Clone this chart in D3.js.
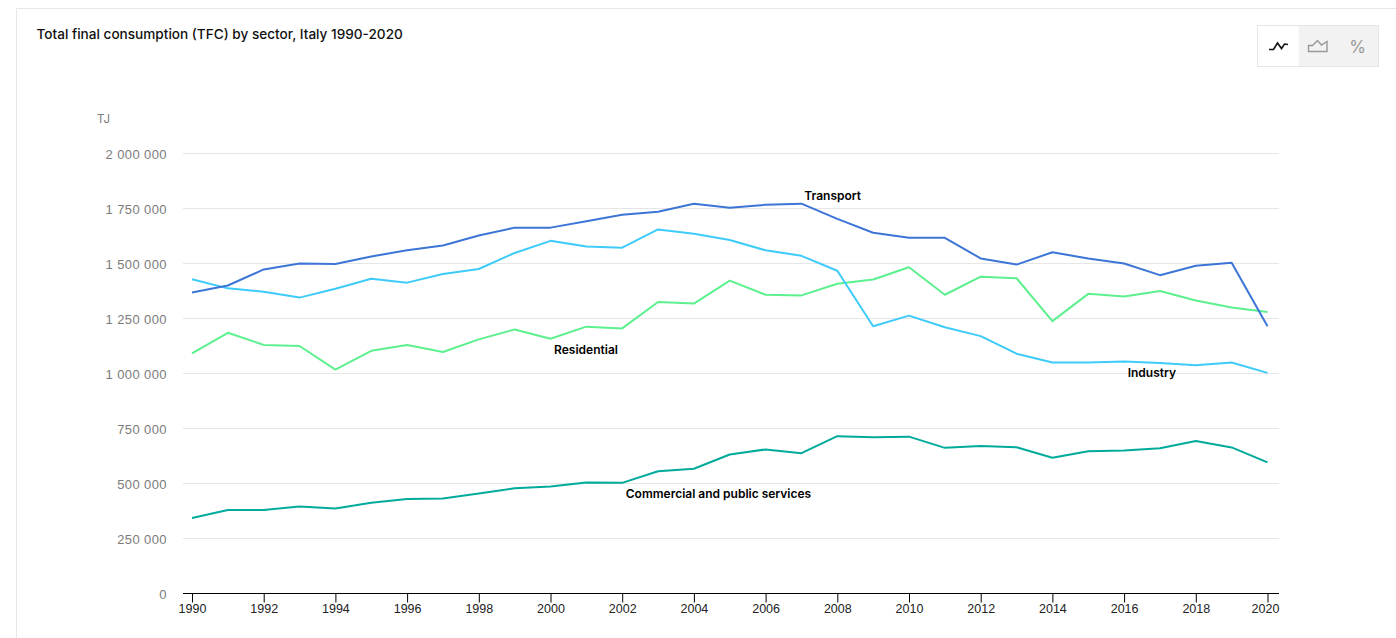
<!DOCTYPE html>
<html>
<head>
<meta charset="utf-8">
<script src="https://cdn.jsdelivr.net/npm/d3@7"></script>
<style>
  html, body { margin: 0; padding: 0; background: #fff; }
  svg { display: block; font-family: Inter, "Open Sans", sans-serif; }
  .grid line { stroke: #e6e6e6; }
  .y-axis text { fill: #7b7b7b; font-size: 13px; letter-spacing: 0.4px; }
  .x-axis text { fill: #222; font-size: 12.5px; }
  .series { fill: none; stroke-width: 2; stroke-linejoin: round; }
  .label { font-size: 12px; font-weight: 600; fill: #000; }
</style>
</head>
<body>
<svg id="chart" width="1396" height="638"></svg>
<script>
const YEARS = d3.range(1990, 2021)
const Y_TICKS = [0, 250000, 500000, 750000, 1000000, 1250000, 1500000, 1750000, 2000000]

const TRANSPORT = [1368, 1400, 1473, 1500, 1498, 1532, 1560, 1582, 1627, 1663, 1663, 1692, 1722, 1735, 1772, 1753, 1767, 1772, 1703, 1640, 1617, 1617, 1523, 1495, 1551, 1523, 1500, 1447, 1490, 1503, 1215]
const INDUSTRY = [1428, 1387, 1372, 1345, 1385, 1431, 1413, 1452, 1475, 1548, 1603, 1577, 1572, 1655, 1635, 1607, 1560, 1535, 1467, 1215, 1263, 1210, 1170, 1090, 1050, 1050, 1054, 1048, 1037, 1050, 1003]
const RESIDENTIAL = [1092, 1185, 1130, 1125, 1018, 1103, 1130, 1098, 1155, 1200, 1158, 1213, 1205, 1325, 1318, 1422, 1358, 1355, 1408, 1427, 1483, 1358, 1440, 1433, 1238, 1362, 1350, 1375, 1332, 1300, 1280]
const COMMERCIAL = [343, 380, 380, 396, 386, 413, 430, 432, 455, 478, 486, 505, 503, 556, 567, 632, 655, 638, 715, 710, 713, 662, 670, 665, 617, 647, 650, 660, 693, 664, 596]

const SERIES = [
    { name: 'Commercial and public services', values: COMMERCIAL, color: '#00ab9c', labelAt: [2002.1, 434000] },
    { name: 'Residential', values: RESIDENTIAL, color: '#5df08f', labelAt: [2000.1, 1090000] },
    { name: 'Industry', values: INDUSTRY, color: '#3fcbfa', labelAt: [2016.1, 985000] },
    { name: 'Transport', values: TRANSPORT, color: '#3d75d6', labelAt: [2007.08, 1790000] },
]

const x = d3.scaleLinear().domain([1990, 2020]).range([192, 1267.5])
const y = d3.scaleLinear().domain([0, 2000000]).range([593.5, 153.5])

const svg = d3.select('#chart')

// card outline
svg.append('path')
    .attr('d', 'M16.5 638V8.5H1396')
    .attr('fill', 'none')
    .attr('stroke', '#e8e8e8')

svg.append('text')
    .attr('x', 36.5)
    .attr('y', 38.5)
    .attr('font-size', 13.6)
    .attr('font-weight', 500)
    .attr('fill', '#111')
    .text('Total final consumption (TFC) by sector, Italy 1990-2020')

svg.append('text')
    .attr('x', 97)
    .attr('y', 123)
    .attr('font-size', 11.5)
    .attr('fill', '#7b7b7b')
    .text('TJ')

// gridlines
svg.append('g')
    .attr('class', 'grid')
    .selectAll('line')
    .data(Y_TICKS.slice(1))
    .join('line')
    .attr('x1', 183)
    .attr('x2', 1279)
    .attr('y1', d => y(d))
    .attr('y2', d => y(d))

const yAxis = d3.axisLeft(y)
    .tickValues(Y_TICKS)
    .tickSize(0)
    .tickPadding(16)
    .tickFormat(d => d3.format(',')(d).replace(/,/g, ' '))

svg.append('g')
    .attr('class', 'y-axis')
    .attr('transform', 'translate(183,1)')
    .call(yAxis)
    .call(g => g.select('.domain').remove())
    .selectAll('text')
    .attr('font-family', null)
    .attr('font-size', null)

const xAxis = d3.axisBottom(x)
    .tickValues(YEARS.filter(d => d % 2 === 0))
    .tickSize(9)
    .tickPadding(2)
    .tickFormat(d3.format('d'))

svg.append('g')
    .attr('class', 'x-axis')
    .attr('transform', 'translate(0,593.5)')
    .call(xAxis)
    .call(g => g.select('.domain').attr('d', 'M183 0H1279').attr('stroke', '#000').attr('stroke-width', 1.2))
    .call(g => g.selectAll('.tick line').attr('stroke', '#000'))
    .call(g => g.selectAll('text').attr('font-family', null).attr('font-size', null))
    .call(g => g.selectAll('.tick:last-child text').attr('dx', -2.5))

const line = d3.line()
    .x((d, i) => x(YEARS[i]))
    .y(d => y(d * 1000))

// Transport sits on top of the others
svg.selectAll('.series')
    .data(SERIES)
    .join('path')
    .attr('class', 'series')
    .attr('stroke', d => d.color)
    .attr('d', d => line(d.values))

svg.selectAll('.label')
    .data(SERIES)
    .join('text')
    .attr('class', 'label')
    .attr('x', d => x(d.labelAt[0]))
    .attr('y', d => y(d.labelAt[1]))
    .text(d => d.name)

// chart type switcher, top right
const sw = svg.append('g').attr('transform', 'translate(1257.5,25.5)')
sw.append('rect').attr('width', 121).attr('height', 41).attr('fill', '#f2f2f2').attr('stroke', '#e6e6e6')
sw.append('rect').attr('x', 0.5).attr('y', 0.5).attr('width', 40.5).attr('height', 40).attr('fill', '#fff')
sw.append('path')
    .attr('d', 'M11.5 24H16L20 17.5L24 23L27 18.5L30.5 19')
    .attr('fill', 'none')
    .attr('stroke', '#111')
    .attr('stroke-width', 1.6)
sw.append('path')
    .attr('d', 'M51 26V20H55L60 15L64 19.5L69.5 16V26Z')
    .attr('fill', 'none')
    .attr('stroke', '#999')
    .attr('stroke-width', 1.4)
sw.append('text')
    .attr('x', 100)
    .attr('y', 27)
    .attr('text-anchor', 'middle')
    .attr('font-size', 17)
    .attr('fill', '#999')
    .text('%')
</script>
</body>
</html>
